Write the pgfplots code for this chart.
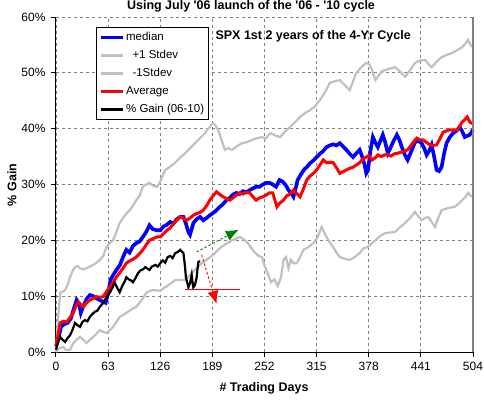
\documentclass[border=0pt]{standalone}
\usepackage{pgfplots}
\pgfplotsset{compat=1.18}
\usepackage{fontspec}
\setmainfont{Liberation Sans}
\newfontfamily\plainquote{Liberation Sans}[Ligatures=TeXOff]
\usetikzlibrary{arrows.meta}
\definecolor{xlblue}{RGB}{0,0,255}
\definecolor{xlred}{RGB}{255,0,0}
\definecolor{xlgray}{RGB}{192,192,192}
\definecolor{xlgrid}{RGB}{128,128,128}
\definecolor{xlgreen}{RGB}{0,128,0}
\begin{document}
\begin{tikzpicture}
\begin{axis}[
  at={(0pt,0pt)}, anchor=south west,
  scale only axis, width=417pt, height=335pt,
  xmin=0, xmax=504, ymin=0, ymax=60,
  xtick={0,63,126,189,252,315,378,441,504},
  ytick={0,10,20,30,40,50,60},
  yticklabel={\pgfmathprintnumber{\tick}\%},
  /pgf/number format/assume math mode=true,
  tick label style={font=\fontsize{12}{14}\selectfont},
  axis x line=bottom, axis y line=left,
  axis line style={-, line width=1pt, black},
  tick align=outside, major tick length=5pt,
  tick style={black, line width=1pt},
  grid=major,
  major grid style={xlgrid, line width=0.9pt, dash pattern=on 3pt off 3pt},
  xticklabel style={yshift=-2pt},
  yticklabel style={xshift=-2pt},
  legend style={at={(0.096,0.970)}, anchor=north west, draw=black, line width=1pt,
    font=\fontsize{11.5}{13}\selectfont, inner xsep=3pt, inner ysep=1pt,
    nodes={inner xsep=1pt, inner ysep=3pt, text height=9pt, text depth=3pt}},
  legend cell align=left,
  legend image code/.code={\draw[#1] (0pt,0pt) -- (22pt,0pt);},
  clip=false,
]
% median
\addplot[xlblue, line width=3.6pt] table {
x y
0 1.0
3 2.5
6 4.5
10 5.0
14 5.2
18 6.0
22 8.0
25 9.3
28 8.5
30 7.0
33 8.2
37 9.5
41 10.2
45 10.0
49 9.6
53 9.3
57 9.0
60 8.8
63 10.5
66 13.0
70 14.0
73 14.7
77 15.5
81 17.0
85 18.3
89 17.8
93 19.0
97 19.5
101 19.8
105 20.6
109 21.5
113 22.7
117 22.0
122 21.8
126 21.8
130 22.5
134 22.8
138 23.3
142 23.0
146 23.8
150 24.2
154 24.2
157 23.0
160 21.5
162 21.0
164 22.0
166 23.1
170 23.8
174 24.2
178 23.6
182 24.0
186 24.5
190 24.9
194 25.4
198 26.0
202 26.5
206 27.2
210 27.6
214 28.2
218 28.5
222 28.3
226 28.8
230 28.6
234 29.0
238 29.3
242 29.6
246 29.6
250 30.0
254 30.3
258 30.3
262 30.0
266 29.6
270 30.8
274 30.5
278 29.8
281 29.0
284 28.5
287 27.8
290 29.5
292 30.8
296 31.8
300 32.7
303 33.1
307 33.8
311 34.3
315 34.9
319 35.5
323 36.0
327 36.7
331 37.0
335 37.2
339 37.0
343 37.4
347 36.8
351 36.2
355 35.5
359 34.9
363 35.6
367 36.2
370 35.0
373 33.5
375 32.0
377 32.5
380 36.0
383 38.5
386 37.5
389 36.7
392 37.8
395 38.9
398 37.5
401 35.6
404 36.5
408 37.8
412 38.9
415 38.0
418 36.7
421 35.5
425 34.4
429 35.8
434 37.6
438 37.8
442 37.4
445 36.5
448 35.3
451 36.0
454 37.1
457 35.0
460 32.6
463 32.4
466 33.1
469 35.5
472 37.4
476 38.5
480 39.2
484 39.6
488 40.3
491 39.5
494 38.5
497 38.7
500 38.9
502 39.3
504 39.8
};
\addlegendentry{median}
% +1 stdev
\addplot[xlgray, line width=2.2pt] table {
x y
0 0.0
2 5.0
5 10.6
8 10.8
11 11.1
14 12.0
17 13.4
20 14.5
23 15.2
26 15.4
29 15.0
33 14.8
37 15.0
41 15.3
45 15.6
49 16.0
53 16.5
57 17.2
61 18.8
65 19.5
69 20.0
73 21.5
77 23.1
81 24.0
85 24.8
89 25.4
93 26.2
97 27.2
101 28.0
105 29.6
109 30.0
113 30.3
117 29.8
122 29.6
126 30.5
132 32.6
138 33.2
144 33.9
150 34.8
156 35.6
162 36.5
168 37.4
174 38.3
180 39.2
184 40.0
186 40.3
188 40.8
190 41.0
193 40.5
196 39.8
200 38.0
204 36.2
208 36.5
213 36.2
218 36.8
225 37.4
231 37.6
237 38.0
243 38.3
249 38.5
253 38.2
259 39.2
265 38.8
271 38.5
277 39.5
283 40.3
289 41.2
295 42.1
301 42.8
307 43.3
313 44.0
319 45.1
325 46.5
331 48.2
337 48.5
343 48.7
349 47.8
355 46.9
359 48.5
363 50.0
369 51.0
375 51.8
379 51.5
382 50.5
386 48.7
390 49.5
394 50.3
398 50.5
404 50.8
410 51.0
416 50.2
422 49.3
428 50.5
434 51.8
440 52.2
446 52.3
450 51.6
454 51.0
460 52.0
466 52.8
472 53.2
478 53.5
484 54.0
491 54.6
495 55.3
498 55.9
501 55.0
504 54.6
};
\addlegendentry{\ \ +1 Stdev}
% -1 stdev
\addplot[xlgray, line width=2.2pt] table {
x y
0 0.0
3 0.5
6 0.8
9 0.9
12 0.4
15 0.3
17 0.4
19 1.0
21 1.6
25 2.2
29 2.7
33 2.2
37 1.6
41 2.2
45 2.7
49 3.3
53 3.9
57 3.6
61 3.4
65 3.9
69 4.5
73 5.4
77 6.3
81 6.6
85 7.0
89 7.4
93 7.8
97 8.1
101 8.8
105 9.6
109 10.6
113 10.9
117 11.1
122 11.0
126 11.0
132 11.6
138 12.2
144 12.9
150 12.9
156 12.9
160 13.5
164 14.1
170 15.0
176 15.9
182 16.5
188 17.2
192 17.7
196 18.3
200 18.8
206 19.4
213 20.0
218 20.3
222 20.6
227 20.2
232 19.5
236 18.6
241 17.7
245 17.2
249 17.0
252 15.5
256 14.0
260 12.5
264 13.0
268 11.8
272 13.4
275 16.5
278 17.0
281 15.0
284 16.5
287 15.9
291 15.9
295 17.0
299 18.3
305 18.8
311 19.5
316 20.5
321 22.4
324 21.5
327 20.6
331 19.6
335 18.8
339 17.8
343 17.0
349 16.7
355 16.5
361 17.0
367 17.7
372 18.6
377 18.8
381 19.4
386 20.0
392 20.8
398 21.3
404 21.4
410 21.5
416 22.4
422 23.1
428 24.0
434 25.1
438 24.3
442 23.6
446 24.0
450 24.2
454 23.3
458 22.4
462 24.0
466 25.4
470 25.6
474 25.8
478 25.9
482 26.0
486 26.5
491 27.2
495 27.8
498 28.5
501 28.0
504 27.8
};
\addlegendentry{\ \ -1Stdev}
% average
\addplot[xlred, line width=3pt] table {
x y
0 1.0
3 3.5
5 5.2
9 5.5
13 5.4
17 6.2
21 7.0
24 8.2
27 9.0
30 8.5
33 8.1
37 8.8
41 9.3
45 9.6
49 9.9
53 9.8
57 9.9
61 10.8
65 11.6
69 12.5
73 13.4
77 14.2
81 15.0
85 15.9
89 16.3
93 16.6
97 17.0
101 17.6
105 18.3
109 19.2
113 20.0
117 20.3
122 20.6
126 20.6
130 21.2
134 21.8
138 22.2
142 23.0
146 23.6
150 24.2
154 24.0
158 23.6
162 24.0
166 24.5
170 24.8
174 25.0
178 25.4
182 26.2
186 27.2
190 28.0
194 28.7
198 28.2
202 27.8
206 27.5
210 27.2
214 27.6
218 28.1
222 28.5
226 28.3
230 28.6
234 28.5
238 27.8
242 27.2
246 27.6
250 27.8
254 28.1
258 28.5
262 28.5
265 27.0
267 26.0
270 26.6
275 27.2
279 28.0
283 28.3
287 29.0
291 28.4
295 27.8
299 29.2
303 30.8
307 31.5
311 32.0
315 32.6
319 33.5
323 34.4
327 33.9
331 34.0
335 33.9
339 33.0
343 32.0
347 32.3
351 32.6
355 32.9
359 33.1
363 33.5
367 33.9
371 34.6
375 34.9
378 35.2
382 34.4
386 34.8
389 35.3
393 35.0
397 35.3
401 35.3
405 35.1
409 35.5
413 35.6
417 35.8
421 36.0
425 36.2
429 37.0
433 37.8
436 38.3
440 38.0
444 38.0
448 37.5
452 37.1
456 37.0
460 37.1
464 38.2
468 39.4
472 39.6
476 39.8
480 39.7
485 39.8
488 40.5
491 41.2
494 41.6
497 42.1
500 41.2
502 41.0
504 41.0
};
\addlegendentry{Average}
% % gain
\addplot[black, line width=2.2pt] table {
x y
0 0.4
2 1.5
5 2.7
8 2.2
11 1.8
14 2.5
17 3.0
20 4.0
23 5.2
26 4.8
29 4.5
32 5.4
35 5.7
38 5.5
41 6.3
44 6.8
47 7.2
50 7.4
53 8.1
56 8.6
59 9.3
62 10.0
65 10.6
68 11.5
71 12.4
74 11.5
77 10.7
80 11.8
83 12.6
85 13.4
88 13.0
91 12.8
93 12.5
96 13.2
99 14.1
102 14.6
105 14.8
108 15.2
111 14.9
113 14.7
116 15.3
120 15.6
123 15.3
126 15.9
129 16.4
132 16.0
135 17.0
138 17.2
141 16.8
144 17.7
147 17.9
150 18.3
152 18.0
154 17.7
155 16.5
156 15.2
157 13.4
159 12.2
160 11.6
162 12.3
164 13.8
165 12.5
166 11.6
168 12.0
170 13.4
171 14.8
172 16.1
174 16.3
};
\addlegendentry{\% Gain (06-10)}
% annotations
\addplot[xlred, line width=1pt, forget plot] coordinates {(156,11.2) (222,11.2)};
\draw[xlred, line width=0.9pt, dash pattern=on 2.5pt off 2pt] (axis cs:176,17.4) -- (axis cs:192.5,9.4);
\draw[xlred, line width=0.9pt, -{Latex[length=13pt,width=11pt]}] (axis cs:191.5,9.9) -- (axis cs:194,8.6);
\draw[xlgreen, line width=0.9pt, dash pattern=on 2.5pt off 2pt] (axis cs:170,17.9) -- (axis cs:218,21.7);
\draw[xlgreen, line width=0.9pt, -{Latex[length=13pt,width=11pt]}] (axis cs:217,21.6) -- (axis cs:221,21.9);
\draw[xlgrid, line width=1.5pt] (rel axis cs:1,0) -- (rel axis cs:1,1);
\end{axis}
\node[font=\fontsize{12.5}{14}\plainquote\selectfont\bfseries] at (195pt,346pt) {Using July '06 launch of the '06 - '10 cycle};
\node[font=\fontsize{12.5}{14}\selectfont\bfseries, anchor=west] at (156pt,316pt) {SPX 1st 2 years of the 4-Yr Cycle};
\node[font=\fontsize{12.5}{14}\selectfont\bfseries] at (208pt,-36pt) {\# Trading Days};
\node[font=\fontsize{12.5}{14}\selectfont\bfseries, rotate=90] at (-44pt,167pt) {\% Gain};
\pgfresetboundingbox
\path (-56pt,-50pt) rectangle (428pt,352pt);
\end{tikzpicture}
\end{document}
